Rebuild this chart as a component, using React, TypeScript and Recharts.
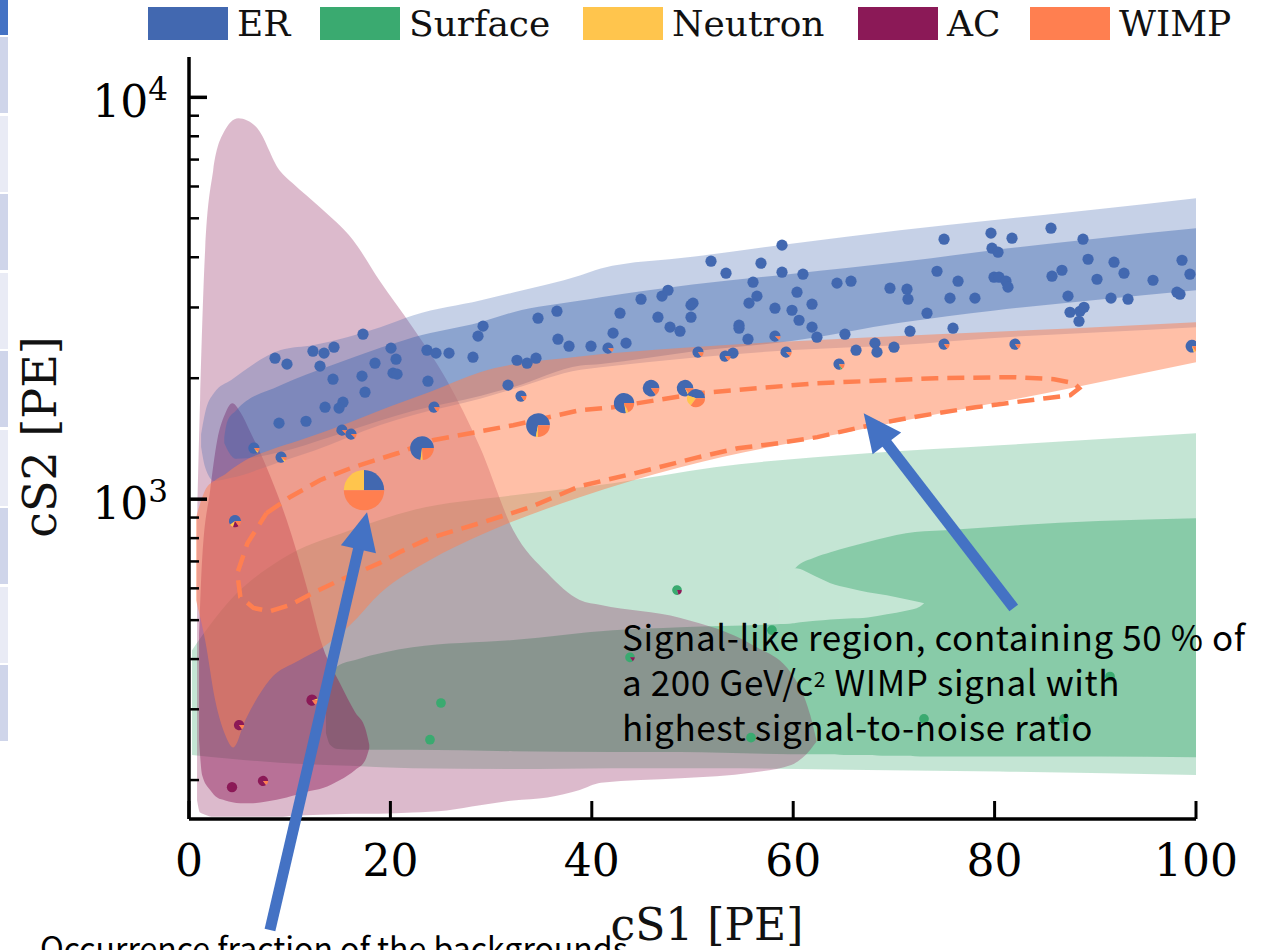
import React from 'react';
import { ComposedChart, Area, Line, Scatter, XAxis, YAxis, ReferenceLine } from 'recharts';

// ---------- categories & colours ----------
const categories = ['ER', 'Surface', 'Neutron', 'AC', 'WIMP'];
const catColors = ['#4268b0', '#3aaa70', '#ffc54d', '#8b1957', '#ff7f50'];
const surfaceLightFlat = '#c4e6d4';
const arrowColor = '#4472c4';

// ---------- axis ticks ----------
const xTicks = [0, 20, 40, 60, 80, 100];
const yTicks = [200, 300, 400, 500, 600, 700, 800, 900, 1000, 2000, 3000, 4000, 5000, 6000, 7000, 8000, 9000, 10000];
const yMajorExp: Record<number, string> = { 1000: '3', 10000: '4' };

// ---------- regions: [cS1, low cS2, high cS2] ----------
const surfaceOuter: [number, number, number][] = [
  [0.3, 231, 421], [4.1, 226, 561], [9.0, 221, 705], [16.0, 217, 837], [22.2, 214, 939],
  [32.2, 213, 1023], [42.1, 214, 1096], [52.2, 214, 1201], [67.4, 212, 1301], [80.5, 210, 1362], [100, 206, 1459],
];
const surfaceInner: [number, number, number][] = [
  [13.6, 262, 300], [14.0, 245, 350], [14.8, 239, 385], [16.5, 238, 398], [22.2, 238, 428], [32.2, 236, 446],
  [42.1, 235, 472], [48.8, 235, 480], [59.8, 232, 491], [59.9, 232, 500], [60.0, 232, 655], [60.2, 232, 673],
  [62.2, 232, 717], [63.7, 232, 738], [65.5, 231, 760], [67.4, 231, 782], [69.3, 230, 804], [71.2, 230, 823],
  [73.0, 229, 832], [75.1, 229, 837], [82.6, 229, 862], [90.3, 229, 882], [100, 228, 897],
];
// light tongue reaching into the inner surface region
const surfaceTongue: [number, number, number][] = [
  [58.6, 489, 664], [59.4, 490, 667], [60.0, 491, 670], [60.2, 492, 673], [62.2, 498, 643], [63.7, 502, 618],
  [65.5, 505, 601], [67.4, 508, 587], [69.3, 517, 577], [71.2, 528, 564], [72.6, 541, 554], [73.0, 551, 551],
];
const acOuter: [number, number, number][] = [
  [0.8, 178, 887], [1.1, 166, 1763], [1.6, 164, 4164], [2.4, 162, 6580], [3.4, 162, 8136], [4.9, 162, 8866],
  [6.7, 162, 8422], [9.0, 162, 6580], [10.3, 163, 6110], [13.0, 164, 5326], [16.3, 165, 4410], [18.9, 165, 3506],
  [22.2, 166, 2677], [25.6, 168, 1977], [28.9, 173, 1347], [32.2, 178, 837], [35.6, 181, 654], [38.8, 189, 561],
  [40.9, 197, 545], [48.8, 202, 506], [56.0, 209, 433], [59.8, 218, 369], [61.7, 238, 290], [62.3, 249, 252],
];
const acInner: [number, number, number][] = [
  [1.0, 252, 446], [1.3, 206, 705], [2.1, 189, 1053], [2.8, 181, 1402], [3.6, 178, 1635], [4.3, 176, 1733],
  [5.1, 175, 1646], [6.1, 175, 1468], [7.7, 177, 1201], [9.7, 181, 887], [11.7, 187, 604], [13.3, 191, 428],
  [15.0, 200, 348], [16.5, 212, 295], [17.5, 224, 269], [17.9, 240, 245],
];
const erOuter: [number, number, number][] = [
  [1.2, 1350, 1450], [1.6, 1200, 1640], [2.5, 1110, 1840], [4.2, 1130, 1980], [9.1, 1240, 2350],
  [12.4, 1320, 2420], [19.0, 1530, 2680], [22.3, 1620, 2870], [29.0, 1780, 3125], [32.2, 1880, 3270],
  [38.9, 2100, 3610], [40.9, 2130, 3750], [50, 2250, 4010], [60, 2350, 4330], [70.6, 2420, 4670],
  [80, 2520, 4950], [90, 2600, 5260], [100, 2680, 5610],
];
const erInner: [number, number, number][] = [
  [3.5, 1380, 1420], [3.8, 1330, 1560], [4.7, 1260, 1665], [9.1, 1310, 1920], [14.1, 1430, 2150],
  [19, 1570, 2380], [22.3, 1660, 2530], [29, 1810, 2760], [32.2, 1900, 2920], [38.9, 2150, 3120],
  [40.9, 2170, 3180], [50, 2330, 3420], [60, 2480, 3640], [70.6, 2750, 3890], [80, 2950, 4170],
  [90, 3130, 4450], [100, 3310, 4720],
];
const wimpBand: [number, number, number][] = [
  [0.7, 560, 900], [1.6, 446, 1053], [2.6, 316, 1115], [3.6, 259, 1154], [4.4, 241, 1195], [5.6, 282, 1250],
  [8.0, 355, 1324], [11.0, 398, 1402], [13.3, 428, 1468], [16.0, 486, 1555], [19.0, 584, 1665],
  [23.9, 705, 1848], [28.9, 813, 2070], [38.8, 1011, 2264], [48.8, 1201, 2378], [66.3, 1485, 2518],
  [88.0, 1899, 2664], [100, 2192, 2756],
];
// signal-like region contour (closed loop) [cS1, cS2]
const signalContour: [number, number][] = [
  [7.7, 923], [10.0, 1011], [13.0, 1115], [16.3, 1201], [20.7, 1301], [24.2, 1402], [32.2, 1528],
  [38.8, 1665], [42.1, 1693], [50.6, 1835], [62.4, 1944], [74.2, 2000], [82.0, 2012], [85.9, 1989],
  [87.9, 1944], [88.4, 1888], [87.5, 1814], [85.1, 1783], [82.0, 1743], [78.1, 1693], [74.2, 1636],
  [70.2, 1572], [66.3, 1502], [62.4, 1427], [58.5, 1378], [54.5, 1339], [50.6, 1272], [44.7, 1167],
  [38.8, 1077], [33.9, 955], [28.9, 872], [23.9, 800], [20.9, 738], [18.9, 693], [15.0, 629],
  [12.3, 584], [10.0, 545], [8.0, 526], [6.4, 536], [5.1, 571], [4.8, 654], [5.8, 777], [7.7, 923],
];

// ---------- events ----------
const erEvents: [number, number][] = [
  [8.54, 2243], [9.73, 2168], [12.31, 2335], [13.41, 2309], [14.40, 2389], [17.28, 2574], [13.01, 2143],
  [14.30, 1989], [17.18, 2024], [18.47, 2180], [20.06, 2376], [20.56, 2230], [20.26, 2059], [20.66, 2047],
  [17.48, 1846], [15.29, 1743], [14.90, 1685], [13.51, 1694], [11.62, 1563], [8.94, 1546],
  [23.73, 1966], [23.63, 2348], [24.53, 2309], [25.82, 2309], [28.20, 2256], [28.70, 2545], [29.20, 2695],
  [34.66, 2821], [36.54, 2936], [36.64, 2501], [37.74, 2403], [39.92, 2403], [32.57, 2217], [33.57, 2180],
  [34.46, 2243], [31.68, 1922], [43.40, 2445], [42.11, 2589], [42.80, 2903], [44.89, 3145], [46.57, 2837],
  [46.97, 3201], [47.57, 3311], [47.77, 2680], [48.76, 2618], [49.85, 3040], [50.05, 3075], [49.85, 2837],
  [51.84, 3910], [53.33, 3651], [54.02, 2309], [54.62, 2710], [54.62, 2664], [55.51, 2501], [55.61, 3075],
  [56.01, 3467], [56.40, 3201], [56.80, 3866], [58.19, 2987], [58.89, 4287], [58.89, 3672], [59.88, 2952],
  [60.38, 3274], [60.58, 2788], [60.97, 3630], [61.87, 3057], [61.87, 2680], [62.36, 2530], [64.35, 3448],
  [65.74, 3487], [65.14, 2574], [66.24, 2348], [68.12, 2445], [68.32, 2322], [69.61, 3350], [70.01, 2389],
  [71.30, 3331], [71.40, 3145], [71.60, 2618], [73.29, 2903], [74.28, 3692], [74.98, 4436], [75.57, 3164],
  [75.87, 2664], [76.37, 3487], [78.05, 3164], [79.64, 4592], [79.74, 4213], [80.34, 4118], [81.73, 4461],
  [79.94, 3568], [80.44, 3568], [81.13, 3487], [81.33, 3370], [85.60, 4725], [85.70, 3589], [86.69, 3713],
  [87.29, 3201], [87.49, 2919], [88.48, 2935], [88.88, 3002], [88.38, 2772], [88.78, 4436], [89.28, 3954],
  [90.17, 3526], [91.56, 3164], [91.86, 3888], [92.85, 3651], [93.25, 3145], [95.73, 3506], [98.11, 3274],
  [98.41, 3237], [98.61, 3932], [99.40, 3630],
];
// [cS1, cS2, weight, fractions ER/Surface/Neutron/AC/WIMP]
const mixedEvents: [number, number, number, number[]][] = [
  [15.19, 1485, 1, [0.88, 0, 0, 0, 0.12]], [16.09, 1452, 1, [0.88, 0, 0, 0, 0.12]],
  [6.45, 1340, 1, [0.85, 0, 0.05, 0, 0.1]], [9.14, 1272, 1, [0.85, 0, 0.05, 0, 0.1]],
  [24.33, 1694, 1, [0.85, 0, 0, 0, 0.15]], [32.97, 1805, 1, [0.85, 0, 0, 0, 0.15]],
  [41.61, 2376, 1, [0.88, 0, 0, 0, 0.12]], [50.55, 2322, 1, [0.85, 0, 0, 0, 0.15]],
  [53.23, 2269, 1, [0.85, 0, 0, 0, 0.15]], [58.19, 2545, 1, [0.88, 0, 0, 0, 0.12]],
  [59.29, 2322, 1, [0.88, 0, 0, 0, 0.12]], [64.55, 2168, 1, [0.8, 0.05, 0, 0, 0.15]],
  [74.98, 2431, 1, [0.85, 0, 0, 0, 0.15]], [82.03, 2431, 1, [0.85, 0, 0, 0, 0.15]],
  [99.6, 2403, 1.3, [0.8, 0, 0.05, 0, 0.15]],
  [17.38, 1053, 13, [0.25, 0, 0.25, 0, 0.5]], [23.14, 1340, 4.5, [0.73, 0, 0.03, 0, 0.24]],
  [34.66, 1528, 4.5, [0.72, 0, 0.03, 0, 0.25]], [43.2, 1734, 3.3, [0.78, 0, 0.04, 0, 0.18]],
  [45.88, 1889, 2.2, [0.85, 0, 0, 0, 0.15]], [49.26, 1889, 2.2, [0.82, 0, 0.03, 0, 0.15]],
  [50.35, 1784, 2.6, [0.45, 0, 0.2, 0, 0.35]], [4.57, 882, 1.2, [0.6, 0, 0.1, 0.15, 0.15]],
];
const acEvents: [number, number, number, number[]][] = [
  [4.97, 274, 0.85, [0, 0, 0, 0.85, 0.15]], [4.27, 192, 0.85, [0, 0, 0, 1, 0]],
  [7.35, 199, 0.85, [0, 0, 0, 0.85, 0.15]], [12.21, 316, 1, [0, 0, 0.05, 0.8, 0.15]],
];
const surfaceEvents: [number, number, number, number[]][] = [
  [48.46, 594, 0.75, [0, 0.8, 0, 0.2, 0]], [57.89, 472, 0.75, [0, 1, 0, 0, 0]],
  [43.79, 404, 0.75, [0, 0.85, 0, 0.15, 0]], [25.02, 311, 0.75, [0, 1, 0, 0, 0]],
  [23.93, 252, 0.75, [0, 1, 0, 0, 0]], [72.99, 284, 0.75, [0, 1, 0, 0, 0]],
  [86.89, 284, 0.75, [0, 1, 0, 0, 0]], [91.46, 362, 0.75, [0, 1, 0, 0, 0]],
  [55.81, 255, 0.75, [0, 1, 0, 0, 0]],
];
// annotation arrows [start, tip] in data coords
const arrowToPie: [number, number][] = [[8.04, 84.7], [17.68, 928]];
const arrowToRegion: [number, number][] = [[81.9, 536], [67.0, 1636]];

// ---------- table builders ----------
const toRange = (rows: [number, number, number][]) => rows.map(([x, lo, hi]) => ({ x, range: [lo, hi] }));
const toPts = (rows: [number, number][]) => rows.map(([x, y]) => ({ x, y }));
const toEvents = (rows: [number, number, number, number[]][]) => rows.map(([x, y, w, fr]) => ({ x, y, w, fr }));
const erEventData = erEvents.map(([x, y]) => ({ x, y, w: 1, fr: [1, 0, 0, 0, 0] }));

const SERIF = '"DejaVu Serif", serif';
const SANS = '"Noto Sans CJK JP", "Noto Sans", sans-serif';

const PieShape = (props: any) => {
  const { cx, cy, payload } = props;
  if (cx == null || cy == null || !payload) return null;
  const r = 5.6 * Math.sqrt(payload.w ?? 1);
  const fr: number[] = payload.fr;
  const total = fr.reduce((a, b) => a + b, 0);
  let a0 = 0;
  const parts: React.ReactNode[] = [];
  fr.forEach((f, i) => {
    if (f <= 0) return;
    const sweep = (f / total) * Math.PI * 2;
    if (sweep >= Math.PI * 2 - 1e-6) {
      parts.push(<circle key={i} cx={cx} cy={cy} r={r} fill={catColors[i]} />);
      return;
    }
    const a1 = a0 + sweep;
    const x0 = cx + r * Math.cos(a0), y0 = cy - r * Math.sin(a0);
    const x1 = cx + r * Math.cos(a1), y1 = cy - r * Math.sin(a1);
    const large = sweep > Math.PI ? 1 : 0;
    parts.push(
      <path key={i} d={`M${cx},${cy} L${x0},${y0} A${r},${r} 0 ${large} 0 ${x1},${y1} Z`} fill={catColors[i]} />
    );
    a0 = a1;
  });
  return <g>{parts}</g>;
};

const XTick = (props: any) => {
  const { x, y, payload } = props;
  return (
    <g>
      <line x1={x} x2={x} y1={y} y2={y - 18} stroke="#000" strokeWidth={3} />
      <text x={x} y={y + 57} textAnchor="middle" fontFamily={SERIF} fontSize={44} fill="#000">
        {payload.value}
      </text>
    </g>
  );
};

const YTick = (props: any) => {
  const { x, y, payload } = props;
  const exp = yMajorExp[payload.value];
  return (
    <g>
      <line x1={x} x2={x + (exp ? 18 : 10)} y1={y} y2={y} stroke="#000" strokeWidth={exp ? 3.5 : 2.5} />
      {exp && (
        <text x={x - 21} y={y + 20} textAnchor="end" fontFamily={SERIF} fontSize={44} fill="#000">
          10<tspan dy={-17} fontSize={31}>{exp}</tspan>
        </text>
      )}
    </g>
  );
};

const ArrowShape = (props: any) => {
  const { x1, y1, x2, y2 } = props;
  if ([x1, y1, x2, y2].some((v) => v == null || isNaN(v))) return null;
  const dx = x2 - x1, dy = y2 - y1;
  const L = Math.hypot(dx, dy);
  const ux = dx / L, uy = dy / L;
  const head = 38, half = 18;
  const bx = x2 - ux * head, by = y2 - uy * head;
  const px = -uy, py = ux;
  return (
    <g>
      <line x1={x1} y1={y1} x2={bx + ux * 2} y2={by + uy * 2} stroke={arrowColor} strokeWidth={11} />
      <polygon
        points={`${x2},${y2} ${bx + px * half},${by + py * half} ${bx - px * half},${by - py * half}`}
        fill={arrowColor}
      />
    </g>
  );
};

const frameLine = { stroke: '#000', strokeWidth: 3.5 };

const stripRows = [0, 1, 2, 3, 4, 5, 6, 7, 8];

export default function App() {
  const legendX = [148, 320, 583, 858, 1030];
  return (
    <div style={{ position: 'absolute', left: 0, top: 0, width: 1262, height: 950, overflow: 'hidden', background: '#fff' }}>
      {/* slide table strip at left */}
      <div style={{ position: 'absolute', left: 0, top: 0, width: 8, height: 35, background: '#4472c4' }} />
      {stripRows.map((i) => (
        <div
          key={i}
          style={{
            position: 'absolute', left: 0, top: 37 + i * 78.5, width: 8, height: 76,
            background: i % 2 === 0 ? '#cfd5ea' : '#e9ebf5',
          }}
        />
      ))}

      <div style={{ position: 'absolute', left: 0, top: 0 }}>
        <ComposedChart width={1262} height={950} margin={{ top: 57, right: 66, bottom: 71, left: 89 }}>
          <XAxis
            dataKey="x" type="number" domain={[0, 100]} ticks={xTicks} allowDataOverflow interval={0}
            tick={<XTick />} tickLine={false} tickSize={0} tickMargin={0} axisLine={frameLine} height={60}
          />
          <XAxis
            xAxisId="top" orientation="top" type="number" domain={[0, 100]} allowDataOverflow
            tick={false} tickLine={false} axisLine={frameLine} height={0}
          />
          <YAxis
            type="number" scale="log" domain={[160, 12600]} ticks={yTicks} allowDataOverflow interval={0}
            tick={<YTick />} tickLine={false} tickSize={0} tickMargin={0} axisLine={frameLine} width={100}
          />
          <YAxis
            yAxisId="right" orientation="right" type="number" scale="log" domain={[160, 12600]} allowDataOverflow
            tick={false} tickLine={false} axisLine={frameLine} width={0}
          />

          <Area data={toRange(surfaceOuter)} dataKey="range" type="monotone" stroke="none" fill={catColors[1]} fillOpacity={0.3} isAnimationActive={false} activeDot={false} />
          <Area data={toRange(surfaceInner)} dataKey="range" type="monotone" stroke="none" fill={catColors[1]} fillOpacity={0.43} isAnimationActive={false} activeDot={false} />
          <Area data={toRange(surfaceTongue)} dataKey="range" type="monotone" stroke="none" fill={surfaceLightFlat} fillOpacity={1} isAnimationActive={false} activeDot={false} />
          <Area data={toRange(acOuter)} dataKey="range" type="monotone" stroke="none" fill={catColors[3]} fillOpacity={0.3} isAnimationActive={false} activeDot={false} />
          <Area data={toRange(acInner)} dataKey="range" type="monotone" stroke="none" fill={catColors[3]} fillOpacity={0.45} isAnimationActive={false} activeDot={false} />
          <Area data={toRange(erOuter)} dataKey="range" type="monotone" stroke="none" fill={catColors[0]} fillOpacity={0.3} isAnimationActive={false} activeDot={false} />
          <Area data={toRange(erInner)} dataKey="range" type="monotone" stroke="none" fill={catColors[0]} fillOpacity={0.43} isAnimationActive={false} activeDot={false} />
          <Area data={toRange(wimpBand)} dataKey="range" type="monotone" stroke="none" fill={catColors[4]} fillOpacity={0.5} isAnimationActive={false} activeDot={false} />

          <Line
            data={toPts(signalContour)} dataKey="y" type="linear" stroke={catColors[4]} strokeWidth={4.5}
            strokeDasharray="17 9" dot={false} activeDot={false} isAnimationActive={false}
          />

          <Scatter data={erEventData} dataKey="y" shape={<PieShape />} isAnimationActive={false} />
          <Scatter data={toEvents(mixedEvents)} dataKey="y" shape={<PieShape />} isAnimationActive={false} />
          <Scatter data={toEvents(acEvents)} dataKey="y" shape={<PieShape />} isAnimationActive={false} />
          <Scatter data={toEvents(surfaceEvents)} dataKey="y" shape={<PieShape />} isAnimationActive={false} />

          <ReferenceLine
            segment={arrowToPie.map(([x, y]) => ({ x, y }))} ifOverflow="visible" shape={<ArrowShape />} zIndex={2000}
          />
          <ReferenceLine
            segment={arrowToRegion.map(([x, y]) => ({ x, y }))} ifOverflow="visible" shape={<ArrowShape />} zIndex={2000}
          />
        </ComposedChart>
      </div>

      {/* legend */}
      {categories.map((c, i) => (
        <React.Fragment key={c}>
          <div style={{ position: 'absolute', left: legendX[i], top: 7, width: 80, height: 33, background: catColors[i] }} />
          <div style={{ position: 'absolute', left: legendX[i] + 89, top: 6, fontFamily: SERIF, fontSize: 36, lineHeight: '36px', color: '#111', whiteSpace: 'nowrap' }}>
            {c}
          </div>
        </React.Fragment>
      ))}

      {/* axis labels */}
      <div style={{ position: 'absolute', left: 557, top: 903, width: 300, textAlign: 'center', fontFamily: SERIF, fontSize: 44, lineHeight: '44px', color: '#111' }}>
        cS1 [PE]
      </div>
      <div style={{ position: 'absolute', left: 40 - 150, top: 437 - 23, width: 300, height: 46, textAlign: 'center', fontFamily: SERIF, fontSize: 46, lineHeight: '46px', color: '#111', transform: 'rotate(-90deg)' }}>
        cS2 [PE]
      </div>

      {/* annotations */}
      <div style={{ position: 'absolute', left: 622, top: 613, fontFamily: SANS, fontSize: 35, letterSpacing: 0.6, lineHeight: '45px', color: '#000', whiteSpace: 'nowrap' }}>
        <div>Signal-like region, containing 50 % of</div>
        <div>a 200 GeV/c<sup style={{ fontSize: 21, verticalAlign: 'top', position: 'relative', top: -2 }}>2</sup> WIMP signal with</div>
        <div>highest signal-to-noise ratio</div>
      </div>
      <div style={{ position: 'absolute', left: 40, top: 924, fontFamily: SANS, fontSize: 32, lineHeight: '45px', color: '#000', whiteSpace: 'nowrap' }}>
        Occurrence fraction of the backgrounds
      </div>
    </div>
  );
}
